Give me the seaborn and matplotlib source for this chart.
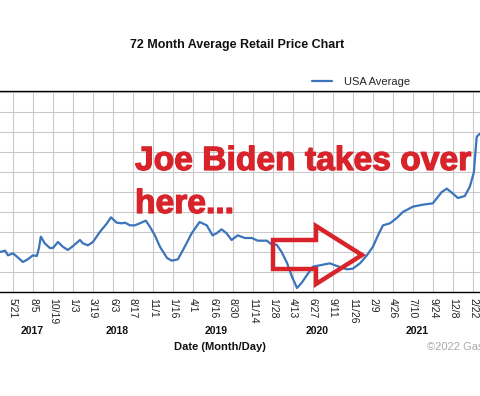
import matplotlib
matplotlib.use("Agg")
import matplotlib.pyplot as plt
import matplotlib.patheffects as pe
import matplotlib.transforms as mtransforms
from matplotlib.patches import Polygon
import numpy as np
import pandas as pd
import seaborn as sns

# weekly-ish USA average retail price
dates = [
    "2017-04-02", "2017-04-21", "2017-05-02", "2017-05-21", "2017-06-05", "2017-06-27",
    "2017-07-16", "2017-08-04", "2017-08-19", "2017-08-27", "2017-09-03", "2017-09-18",
    "2017-10-07", "2017-10-19", "2017-11-07", "2017-11-25", "2017-12-14", "2018-01-03",
    "2018-01-29", "2018-02-09", "2018-02-28", "2018-03-19", "2018-04-14", "2018-05-11",
    "2018-05-26", "2018-06-17", "2018-07-06", "2018-07-18", "2018-08-06", "2018-08-24",
    "2018-09-12", "2018-10-05", "2018-10-20", "2018-11-08", "2018-11-27", "2018-12-24",
    "2019-01-11", "2019-02-03", "2019-03-01", "2019-03-27", "2019-04-26", "2019-05-23",
    "2019-06-14", "2019-06-29", "2019-07-18", "2019-08-06", "2019-08-25", "2019-09-17",
    "2019-10-14", "2019-11-09", "2019-12-02", "2020-01-05", "2020-01-24", "2020-02-11",
    "2020-03-01", "2020-03-21", "2020-04-09", "2020-04-28", "2020-05-16", "2020-06-04",
    "2020-06-27", "2020-07-23", "2020-08-30", "2020-09-26", "2020-11-03", "2020-11-25",
    "2020-12-22", "2021-01-17", "2021-02-09", "2021-02-28", "2021-03-19", "2021-04-14",
    "2021-05-10", "2021-06-02", "2021-07-10", "2021-08-17", "2021-09-23", "2021-10-27",
    "2021-11-15", "2021-12-04", "2021-12-27", "2022-01-22", "2022-02-10", "2022-02-25",
    "2022-03-04", "2022-03-08", "2022-03-19",
]
prices = [
    2.35, 2.37, 2.30, 2.33, 2.28, 2.20,
    2.24, 2.30, 2.29, 2.41, 2.58, 2.48,
    2.41, 2.41, 2.50, 2.43, 2.38, 2.44,
    2.53, 2.48, 2.45, 2.50, 2.65, 2.78,
    2.87, 2.79, 2.78, 2.79, 2.75, 2.75,
    2.78, 2.82, 2.73, 2.60, 2.43, 2.26,
    2.22, 2.24, 2.43, 2.63, 2.80, 2.75,
    2.60, 2.63, 2.69, 2.63, 2.53, 2.60,
    2.56, 2.56, 2.52, 2.52, 2.46, 2.46,
    2.35, 2.19, 1.98, 1.81, 1.89, 2.00,
    2.13, 2.15, 2.18, 2.14, 2.09, 2.10,
    2.18, 2.30, 2.43, 2.60, 2.75, 2.78,
    2.86, 2.95, 3.03, 3.06, 3.08, 3.25,
    3.30, 3.24, 3.16, 3.19, 3.33, 3.54,
    3.88, 4.08, 4.12,
]

tick_dates = [
    "2017-05-21", "2017-08-05", "2017-10-19", "2018-01-03", "2018-03-19", "2018-06-03",
    "2018-08-17", "2018-11-01", "2019-01-16", "2019-04-01", "2019-06-16", "2019-08-30",
    "2019-11-14", "2020-01-28", "2020-04-13", "2020-06-27", "2020-09-11", "2020-11-26",
    "2021-02-09", "2021-04-26", "2021-07-10", "2021-09-24", "2021-12-08", "2022-02-22",
]
tick_labels = [
    "5/21", "8/5", "10/19", "1/3", "3/19", "6/3", "8/17", "11/1", "1/16", "4/1",
    "6/16", "8/30", "11/14", "1/28", "4/13", "6/27", "9/11", "11/26", "2/9", "4/26",
    "7/10", "9/24", "12/8", "2/22",
]
year_labels = ["2017", "2018", "2019", "2020", "2021"]
year_dates = ["2017-07-31", "2018-06-17", "2019-06-29", "2020-07-12", "2021-07-25"]

note_lines = ["Joe Biden takes over", "here..."]

df = pd.DataFrame({"date": pd.to_datetime(dates), "price": prices})

sns.set_style("white")
plt.rcParams["font.family"] = ["Liberation Sans", "DejaVu Sans"]

W, H = 480, 396
fig = plt.figure(figsize=(W / 100, H / 100), dpi=100)
ax_top, ax_bot = 91, 292
ax = fig.add_axes([0, (H - ax_bot) / H, 1, (ax_bot - ax_top) / H])

blue = "#3b74bb"
red = "#d8232b"

sns.lineplot(data=df, x="date", y="price", color=blue, linewidth=1.6,
             ax=ax, label="USA Average", zorder=3)

# x range: first tick at px 13, last tick at px 473
t = pd.to_datetime(tick_dates)
per_px = (t[-1] - t[0]) / (473 - 13)
ax.set_xlim(t[0] - 13 * per_px, t[0] + (W - 13) * per_px)
ax.set_xticks(t)
ax.set_xticklabels(tick_labels, rotation=-90, fontsize=7.5, color="#222222")
ax.tick_params(axis="x", length=0, pad=4.5)

ax.set_ylim(1.75, 4.765)
ax.set_yticks(np.arange(1.75, 4.76, 0.30))
ax.tick_params(axis="y", length=0, labelleft=False)

ax.grid(True, color="#c9c9c9", linewidth=0.8, zorder=0)
ax.set_axisbelow(True)
for side in ["left", "right"]:
    ax.spines[side].set_visible(False)
for side in ["top", "bottom"]:
    ax.spines[side].set_color("black")
    ax.spines[side].set_linewidth(1.0)
ax.set_xlabel("")
ax.set_ylabel("")

# year labels under the month ticks
trans = mtransforms.blended_transform_factory(ax.transData, fig.transFigure)
for lab, d in zip(year_labels, year_dates):
    ax.text(pd.Timestamp(d), 1 - 331 / H, lab, transform=trans, ha="center",
            va="center", fontsize=7.5, fontweight="bold", color="#111111")

fig.text(220 / W, 1 - 347 / H, "Date (Month/Day)", ha="center", va="center",
         fontsize=8, fontweight="bold", color="#111111")
# the reference is cropped through the copyright line
fig.text(427 / W, 1 - 347 / H, "\u00a92022 GasBuddy.com", ha="left", va="center",
         fontsize=8, color="#aaaaaa")
fig.text(237 / W, 1 - 45 / H, "72 Month Average Retail Price Chart", ha="center",
         va="center", fontsize=9, fontweight="bold", color="#111111")

ax.legend(loc="center left", bbox_to_anchor=(312 / W, 1 - 82 / H),
          bbox_transform=fig.transFigure, frameon=False, fontsize=8,
          handlelength=1.8, handletextpad=1.1, borderpad=0, borderaxespad=0)

# red annotation, positioned in pixel space of the axes
def frac(px, py):
    return px / W, (ax_bot - py) / (ax_bot - ax_top)

thick = [pe.withStroke(linewidth=0.9, foreground=red)]
x0, y0 = frac(135, 170)
ax.text(x0, y0, note_lines[0], transform=ax.transAxes, ha="left", va="baseline",
        fontsize=24.2, fontweight="bold", color=red, zorder=5, path_effects=thick)
x1, y1 = frac(135, 213)
ax.text(x1, y1, note_lines[1], transform=ax.transAxes, ha="left", va="baseline",
        fontsize=24.2, fontweight="bold", color=red, zorder=5, path_effects=thick)

arrow = [frac(273, 240), frac(316, 240), frac(316, 226), frac(362, 255),
         frac(316, 284), frac(316, 269), frac(273, 269)]
ax.add_patch(Polygon(arrow, closed=True, fill=False, edgecolor=red, linewidth=3.2,
                     joinstyle="miter", transform=ax.transAxes, zorder=4,
                     clip_on=False))

fig.savefig("out.png", dpi=100)
